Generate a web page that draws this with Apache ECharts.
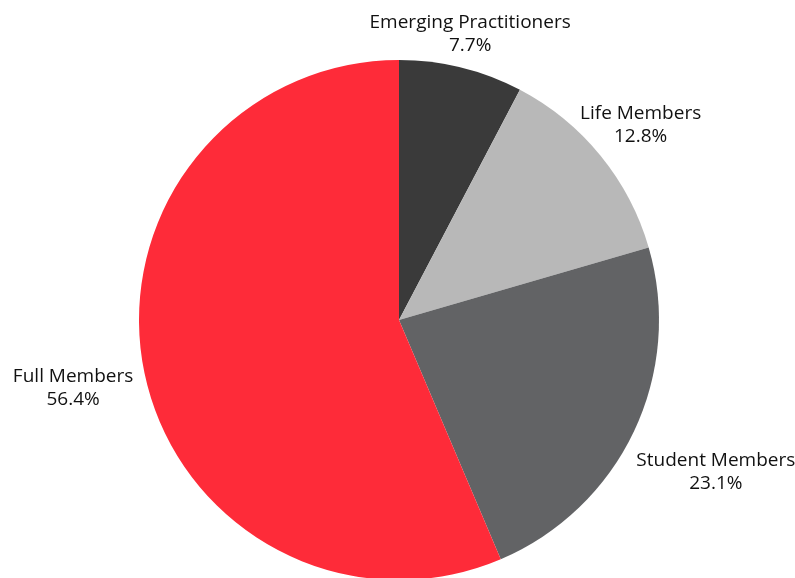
<!DOCTYPE html>
<html>
<head>
<meta charset="utf-8">
<script src="https://cdn.jsdelivr.net/npm/echarts@6/dist/echarts.min.js"></script>
<style>
  html, body { margin: 0; padding: 0; background: #fff; }
  #chart { width: 795px; height: 578px; }
</style>
</head>
<body>
<div id="chart"></div>
<script>
// membership breakdown (percent)
const categories = ['Emerging Practitioners', 'Life Members', 'Student Members', 'Full Members'];
const shares = [7.7, 12.8, 23.1, 56.4];
const colors = ['#3a3a3a', '#b8b8b8', '#626365', '#fe2b39'];

const CX = 399, CY = 320, R = 260;

const chart = echarts.init(document.getElementById('chart'));

// mid angle (clockwise from 12 o'clock) of each slice
const total = shares.reduce((a, b) => a + b, 0);
const midAngles = [];
let acc = 0;
shares.forEach(v => {
  midAngles.push((acc + v / 2) / total * Math.PI * 2);
  acc += v;
});

// put each label box just outside the circle along the slice's mid direction
const placeLabel = (params) => {
  const a = midAngles[params.dataIndex];
  const ux = Math.sin(a), uy = -Math.cos(a);
  const w = params.labelRect.width, h = params.labelRect.height;
  const support = Math.abs(ux) * w / 2 + Math.abs(uy) * h / 2;
  // upper labels sit a bit closer, lower ones a bit further out
  const d = R + support + (uy < 0 ? -9.5 : 9);
  return {
    x: CX + ux * d,
    y: CY + uy * d + 2,
    align: 'center',
    verticalAlign: 'middle'
  };
};

chart.setOption({
  animation: false,
  series: [{
    type: 'pie',
    center: [CX, CY],
    radius: R,
    startAngle: 90,
    clockwise: true,
    data: categories.map((name, i) => ({
      name: name,
      value: shares[i],
      itemStyle: { color: colors[i] }
    })),
    label: {
      show: true,
      position: 'outside',
      overflow: 'none',
      formatter: (p) => p.name + '\n' + p.value + '%',
      color: '#111',
      fontFamily: 'Open Sans',
      fontSize: 19,
      lineHeight: 23
    },
    labelLine: { show: false },
    labelLayout: placeLabel,
    emphasis: { disabled: true }
  }]
});
</script>
</body>
</html>
